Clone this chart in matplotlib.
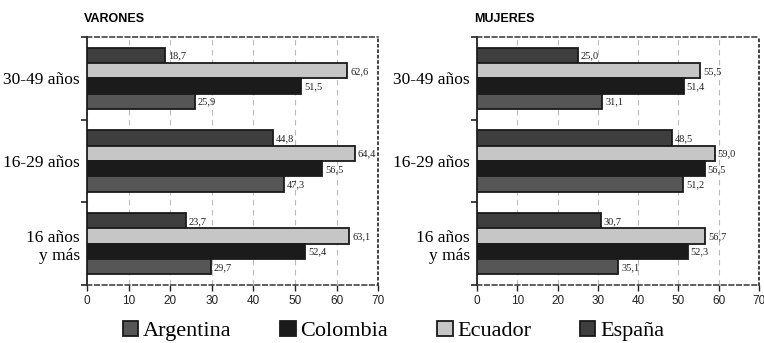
import matplotlib
matplotlib.use("Agg")
import matplotlib.pyplot as plt
from matplotlib.patches import Patch

categories = ["30-49 años", "16-29 años", "16 años\ny más"]
series = ["España", "Ecuador", "Colombia", "Argentina"]  # top to bottom within a group
varones = {
    "España": [18.7, 44.8, 23.7],
    "Ecuador": [62.6, 64.4, 63.1],
    "Colombia": [51.5, 56.5, 52.4],
    "Argentina": [25.9, 47.3, 29.7],
}
mujeres = {
    "España": [25.0, 48.5, 30.7],
    "Ecuador": [55.5, 59.0, 56.7],
    "Colombia": [51.4, 56.5, 52.3],
    "Argentina": [31.1, 51.2, 35.1],
}
legend_order = ["Argentina", "Colombia", "Ecuador", "España"]
colors = {"España": "#3e3e3e", "Ecuador": "#c6c6c6", "Colombia": "#1b1b1b", "Argentina": "#565656"}

serif = ["Liberation Serif", "DejaVu Serif"]
sans = ["Liberation Sans", "DejaVu Sans"]

fig = plt.figure(figsize=(7.64, 3.43), dpi=100)

def panel(rect, data, title):
    ax = fig.add_axes(rect)
    h = 0.185
    ypos = [2 - i for i in range(len(categories))]
    for k, s in enumerate(series):
        off = (1.5 - k) * h
        ys = [y + off for y in ypos]
        ax.barh(ys, data[s], height=h, color=colors[s], edgecolor="#1a1a1a", linewidth=1.3, zorder=3)
        for y, v in zip(ys, data[s]):
            ax.text(v + 0.7, y - 0.01, f"{v:.1f}".replace(".", ","), va="center", ha="left",
                    fontsize=7.5, family=serif, color="#222222", zorder=4)
    ax.set_xlim(0, 70)
    ax.set_ylim(-0.5, 2.5)
    ax.set_xticks(range(0, 71, 10))
    ax.set_yticks(ypos)
    ax.set_yticklabels(categories, family=serif, fontsize=12.5)
    ax.set_yticks([-0.5, 0.5, 1.5, 2.5], minor=True)
    ax.tick_params(axis="y", which="major", length=0, pad=5)
    ax.tick_params(axis="y", which="minor", length=4, width=1.2, direction="out", color="#222222")
    ax.tick_params(axis="x", length=4, width=1.0, direction="out", labelsize=8.5, color="#222222",
                   labelcolor="#222222")
    for lab in ax.get_xticklabels():
        lab.set_family(sans)
    ax.grid(axis="x", linestyle=(0, (5, 4)), color="#bbbbbb", linewidth=0.8, zorder=0)
    ax.spines["left"].set_linewidth(1.3)
    ax.spines["left"].set_color("#222222")
    for side in ("top", "bottom"):
        ax.spines[side].set_linestyle((0, (3, 2)))
        ax.spines[side].set_linewidth(1.1)
        ax.spines[side].set_color("#333333")
    ax.spines["right"].set_linestyle((0, (1, 2)))
    ax.spines["right"].set_linewidth(1.3)
    ax.spines["right"].set_color("#333333")
    fig.text(rect[0] - 0.004, 0.945, title, fontsize=9, fontweight="bold", family=sans,
             ha="left", va="center")
    return ax

panel([0.1139, 0.169, 0.381, 0.723], varones, "VARONES")
panel([0.6243, 0.169, 0.369, 0.723], mujeres, "MUJERES")

handles = [Patch(facecolor=colors[s], edgecolor="#1a1a1a", linewidth=1.3, label=s) for s in legend_order]
fig.legend(handles=handles, loc="center", bbox_to_anchor=(0.515, 0.035), ncol=4, frameon=False,
           prop={"family": serif, "size": 16}, handlelength=0.7, handleheight=0.7,
           handletextpad=0.2, columnspacing=2.2, borderpad=0)

fig.savefig("out.png", dpi=100)
